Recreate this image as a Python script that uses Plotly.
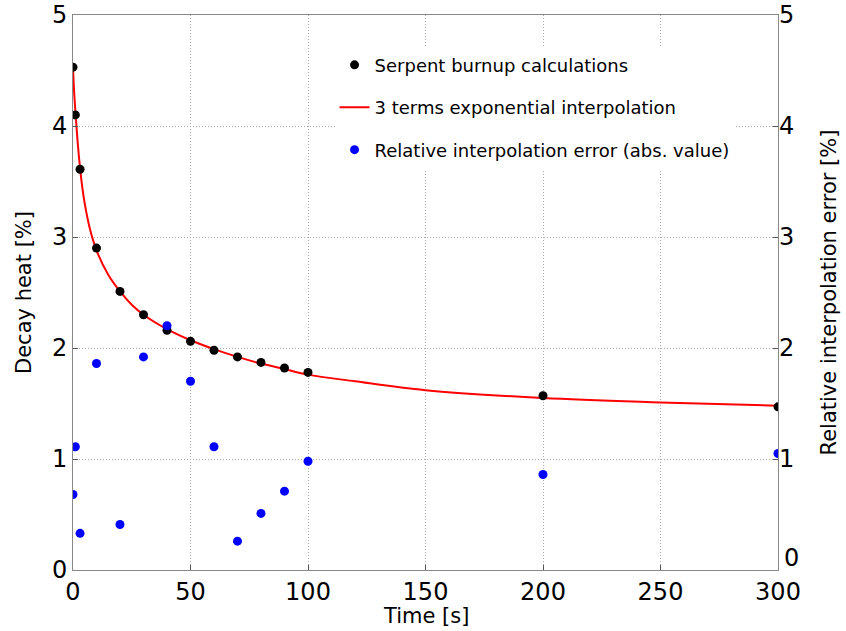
import plotly.graph_objects as go

time_pts = [0, 1, 3, 10, 20, 30, 40, 50, 60, 70, 80, 90, 100, 200, 300]
decay_heat = [4.53, 4.10, 3.61, 2.90, 2.51, 2.30, 2.16, 2.06, 1.98, 1.92, 1.87, 1.82, 1.78, 1.57, 1.47]
rel_error = [0.68, 1.11, 0.33, 1.86, 0.41, 1.92, 2.20, 1.70, 1.11, 0.26, 0.51, 0.71, 0.98, 0.86, 1.05]

curve_t = [0, 0.5, 1, 2, 3, 4, 5, 7, 10, 15, 20, 25, 30, 40, 50, 60, 70, 80, 90, 100, 120, 150, 200, 250, 300]
curve_y = [4.53, 4.30, 4.14, 3.85, 3.62, 3.44, 3.30, 3.09, 2.88, 2.66, 2.51, 2.39, 2.30, 2.17, 2.07, 1.99, 1.92, 1.86, 1.81, 1.76, 1.70, 1.62, 1.55, 1.51, 1.48]

yticks = [0, 1, 2, 3, 4, 5]
xticks = [0, 50, 100, 150, 200, 250, 300]

FONT = "DejaVu Sans"
TITLE_SIZE = 21

fig = go.Figure()
fig.add_trace(go.Scatter(x=curve_t, y=curve_y, mode="lines", line=dict(color="red", width=2, shape="spline"),
                         name="3 terms exponential interpolation", legendgroup="b", legendrank=2))
fig.add_trace(go.Scatter(x=time_pts, y=decay_heat, mode="markers",
                         marker=dict(color="black", size=9),
                         name="Serpent burnup calculations", legendgroup="a", legendrank=1))
fig.add_trace(go.Scatter(x=time_pts, y=rel_error, mode="markers", yaxis="y2",
                         marker=dict(color="blue", size=9),
                         name="Relative interpolation error (abs. value)", legendgroup="c", legendrank=3))

axis_common = dict(showline=True, linecolor="#888", linewidth=1, mirror=True,
                   ticks="inside", ticklen=5, tickcolor="#555",
                   showgrid=True, gridcolor="#aaa", griddash="1px,2px", gridwidth=1,
                   zeroline=False, automargin=False,
                   tickfont=dict(family=FONT, size=24, color="black"))

fig.update_layout(
    width=846, height=631,
    margin=dict(l=73, r=68, t=15, b=61),
    paper_bgcolor="white", plot_bgcolor="white",
    font=dict(family=FONT, color="black"),
    showlegend=True,
    legend=dict(x=0.371, y=0.943, xanchor="left", yanchor="top", bgcolor="rgba(255,255,255,1)",
                font=dict(family=FONT, size=18), tracegroupgap=16, traceorder="grouped",
                itemwidth=30),
    xaxis=dict(range=[0, 300], tickvals=xticks, **axis_common),
    yaxis=dict(range=[0, 5], tickvals=yticks,
               title=dict(text="Decay heat [%]", font=dict(family=FONT, size=TITLE_SIZE), standoff=14),
               **axis_common),
    yaxis2=dict(range=[0, 5], tickvals=yticks[1:], overlaying="y", side="right",
                showline=False, ticks="inside", ticklen=5, tickcolor="#555", showgrid=False,
                zeroline=False, automargin=False, tickfont=dict(family=FONT, size=24, color="black"),
                title=dict(text="Relative interpolation error [%]", font=dict(family=FONT, size=TITLE_SIZE), standoff=28)),
    annotations=[
        dict(text="0", x=1, xref="paper", xanchor="left", xshift=4,
             y=0.11, yref="y2", yanchor="middle", showarrow=False,
             font=dict(family=FONT, size=24, color="black")),
        dict(text="Time [s]", x=0.5, xref="paper", xanchor="center", y=0, yref="paper",
             yanchor="middle", yshift=-46, showarrow=False,
             font=dict(family=FONT, size=TITLE_SIZE, color="black")),
    ],
)

fig.write_html("out.html")
